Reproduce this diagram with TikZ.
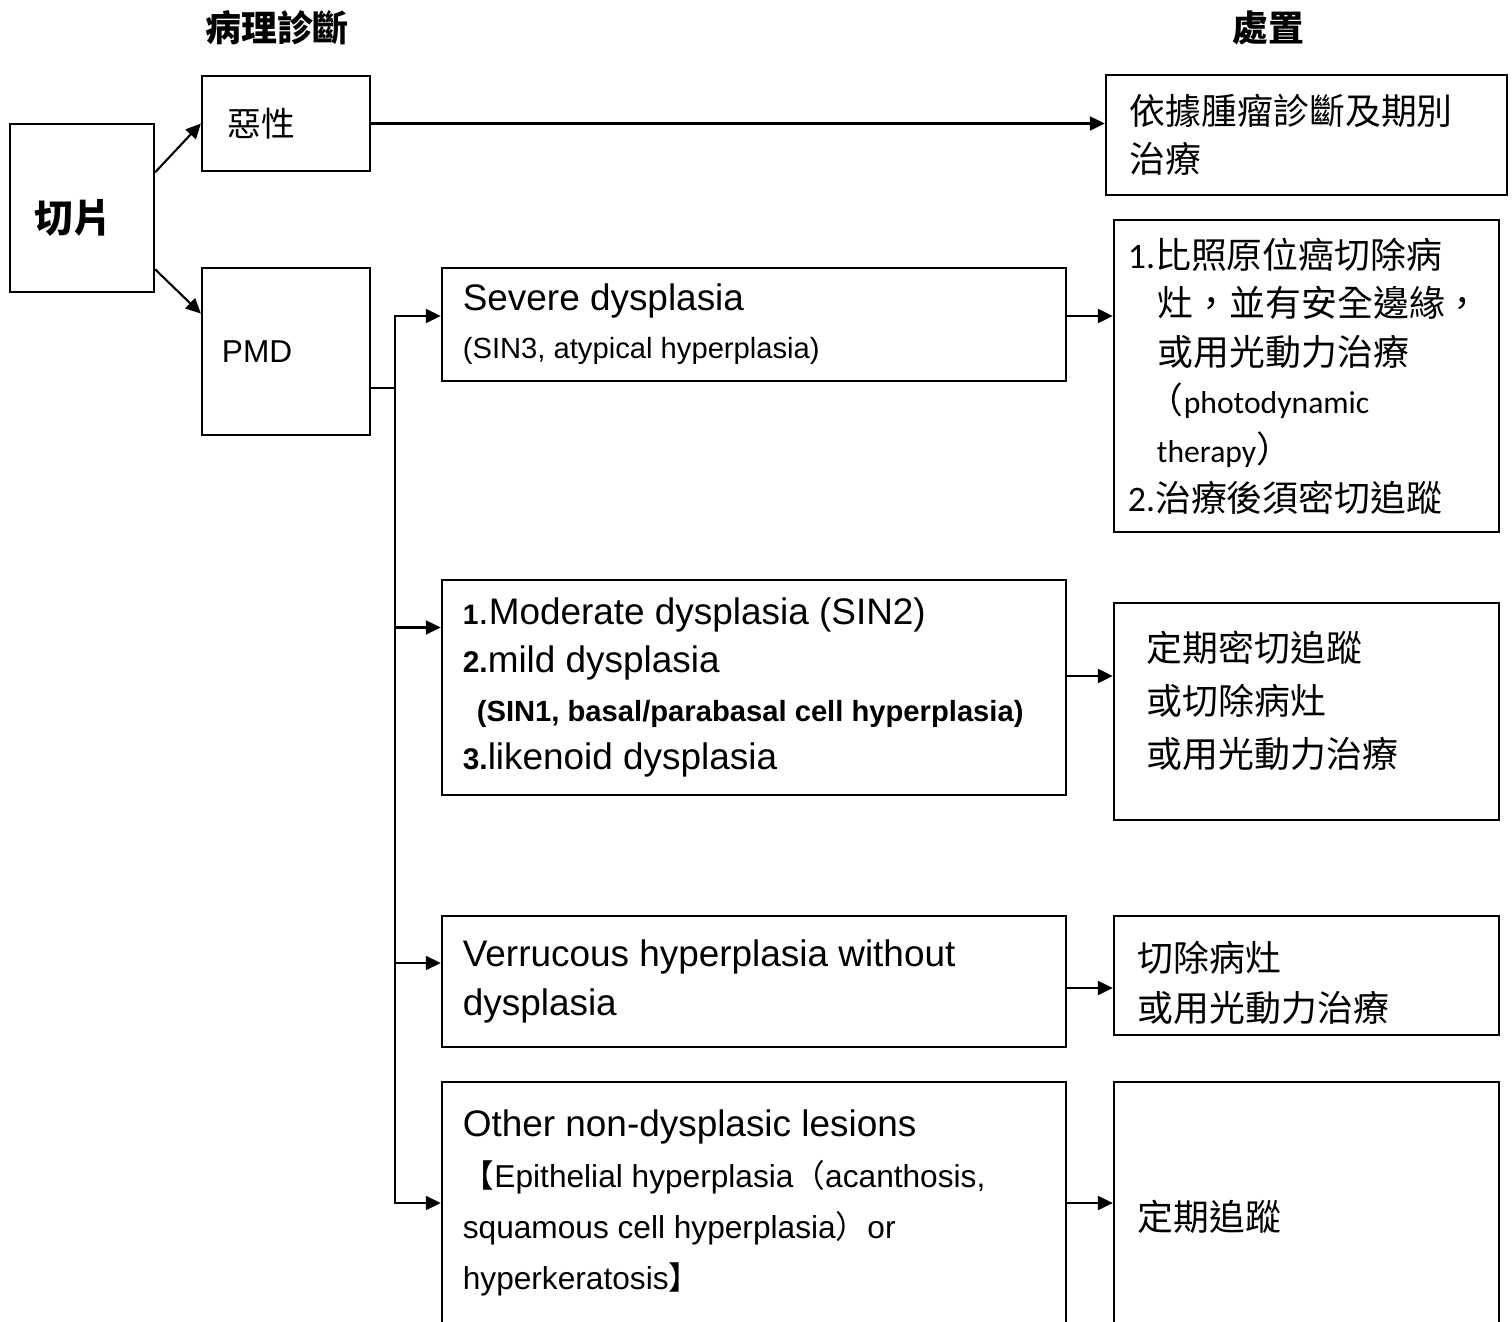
\documentclass[tikz,border=0pt]{standalone}
\usepackage{fontspec}
\setmainfont{Liberation Sans}
\newfontfamily\cjk{Noto Sans CJK TC}
\newfontfamily\calib{Carlito}
\usetikzlibrary{arrows.meta}

\begin{document}
\begin{tikzpicture}[x=0.01cm, y=-0.01cm, line width=0.6pt,
  every node/.style={font=\fontsize{10.5}{13.7}\selectfont},
  box/.style={draw, rectangle, align=flush left, inner ysep=0pt},
  arr/.style={-{Triangle[length=0.15cm, width=0.14cm]}}]
\useasboundingbox (0,0) rectangle (1512,1321);
\clip (0,0) rectangle (1512,1321);

% Encabezados
\node (diag) at (277,28) {\cjk\bfseries\fontsize{10.2}{12}\selectfont 病理診斷};
\node (chuzhi) at (1268,28) {\cjk\bfseries\fontsize{10.2}{12}\selectfont 處置};

% Columna izquierda
\node (qiepian) at (82,208) [box, minimum height=1.68cm, text width=0.94cm, inner xsep=0.25cm, font=\cjk\bfseries\fontsize{11}{13}\selectfont] {\mbox{}\\[0.08cm]切片};
\node (exing) at (286,123.5) [box, minimum height=0.95cm, text width=1.16cm, inner xsep=0.26cm, font=\cjk\fontsize{9.6}{12}\selectfont] {惡性};
\node (pmd) at (286,351.5) [box, minimum height=1.67cm, text width=1.28cm, inner xsep=0.20cm, font=\fontsize{9}{12}\selectfont] {PMD};

% Diagnosticos PMD
\node (severe) at (754,324.5) [box, minimum height=1.13cm, text width=5.82cm, inner xsep=0.21cm] {Severe dysplasia\\{\fontsize{8.3}{13.7}\selectfont (SIN3, atypical hyperplasia)}};
\node (moderate) at (754,687.5) [box, minimum height=2.15cm, text width=5.82cm, inner xsep=0.21cm] {{\bfseries\fontsize{8}{13.7}\selectfont 1}.Moderate dysplasia (SIN2)\\ {\bfseries\fontsize{8.5}{13.7}\selectfont 2.}mild dysplasia\\ \hspace*{0.14cm}{\bfseries\fontsize{8.3}{13.7}\selectfont (SIN1, basal/parabasal cell hyperplasia)}\\ {\bfseries\fontsize{8.5}{13.7}\selectfont 3.}likenoid dysplasia};
\node (verruc) at (754,981.5) [box, minimum height=1.31cm, text width=5.82cm, inner xsep=0.21cm] {Verrucous hyperplasia without\\dysplasia};
\node (other) at (754,1203) [box, minimum height=2.42cm, text width=5.82cm, inner xsep=0.21cm, font=\fontsize{10.5}{14.5}\selectfont] {Other non-dysplasic lesions\\{\fontsize{9}{14.5}\selectfont{\cjk 【}Epithelial hyperplasia{\cjk （}acanthosis,}\\{\fontsize{9}{14.5}\selectfont squamous cell hyperplasia{\cjk ）}or}\\{\fontsize{9}{14.5}\selectfont hyperkeratosis{\cjk 】}}};

% Columna de tratamiento
\node (yiju) at (1306.5,135) [box, minimum height=1.20cm, text width=3.53cm, inner xsep=0.24cm, font=\cjk\fontsize{10.2}{13.7}\selectfont] {依據腫瘤診斷及期別\\治療};
\node (treat1) at (1306.5,376) [box, minimum height=3.12cm, text width=3.57cm, inner xsep=0.14cm, font=\cjk\fontsize{10.2}{13.8}\selectfont] {{\calib 1.}比照原位癌切除病\\ \hspace*{0.30cm}灶，並有安全邊緣，\\ \hspace*{0.30cm}或用光動力治療\\ \hspace*{0.20cm}（{\calib\fontsize{9}{13.8}\selectfont photodynamic}\\ \hspace*{0.29cm}{\calib\fontsize{9}{13.8}\selectfont therapy}）\\ {\calib 2.}治療後須密切追蹤};
\node (treat2) at (1306.5,711.5) [box, minimum height=2.17cm, text width=3.19cm, inner xsep=0.33cm, font=\cjk\fontsize{10.2}{15.1}\selectfont] {定期密切追蹤\\或切除病灶\\或用光動力治療\\[-0.29cm]\mbox{}};
\node (treat3) at (1306.5,975.5) [box, minimum height=1.19cm, text width=3.37cm, inner xsep=0.24cm, font=\cjk\fontsize{10.2}{14.2}\selectfont] {\mbox{}\\[-0.045cm]切除病灶\\或用光動力治療};
\node (treat4) at (1306.5,1203) [box, minimum height=2.42cm, text width=3.37cm, inner xsep=0.24cm, font=\cjk\fontsize{10.2}{13.7}\selectfont] {\mbox{}\\[0.10cm]定期追蹤};

% Flechas desde el corte
\draw[arr] (qiepian.26) -- (exing.west);
\draw[arr] (qiepian.-40) -- (pmd.156);
\draw[arr] (exing.east) -- (exing.east -| yiju.west);

% Ramas de PMD
\coordinate (bus) at ([xshift=0.24cm]pmd.-23);
\coordinate (sevin) at ([yshift=0.085cm]severe.west);
\coordinate (modin) at ([yshift=0.60cm]moderate.west);
\coordinate (verin) at ([yshift=0.185cm]verruc.west);
\draw (pmd.-23) -- (bus);
\draw[arr] (bus) |- (sevin);
\draw[arr] (bus) |- (modin);
\draw[arr] (bus) |- (verin);
\draw[arr] (bus) |- (other.west);

% Hacia el tratamiento
\coordinate (sevout) at ([yshift=0.085cm]severe.east);
\coordinate (modout) at ([yshift=0.115cm]moderate.east);
\coordinate (verout) at ([yshift=-0.065cm]verruc.east);
\draw[arr] (sevout) -- (sevout -| treat1.west);
\draw[arr] (modout) -- (modout -| treat2.west);
\draw[arr] (verout) -- (verout -| treat3.west);
\draw[arr] (other.east) -- (treat4.west);
\end{tikzpicture}
\end{document}
